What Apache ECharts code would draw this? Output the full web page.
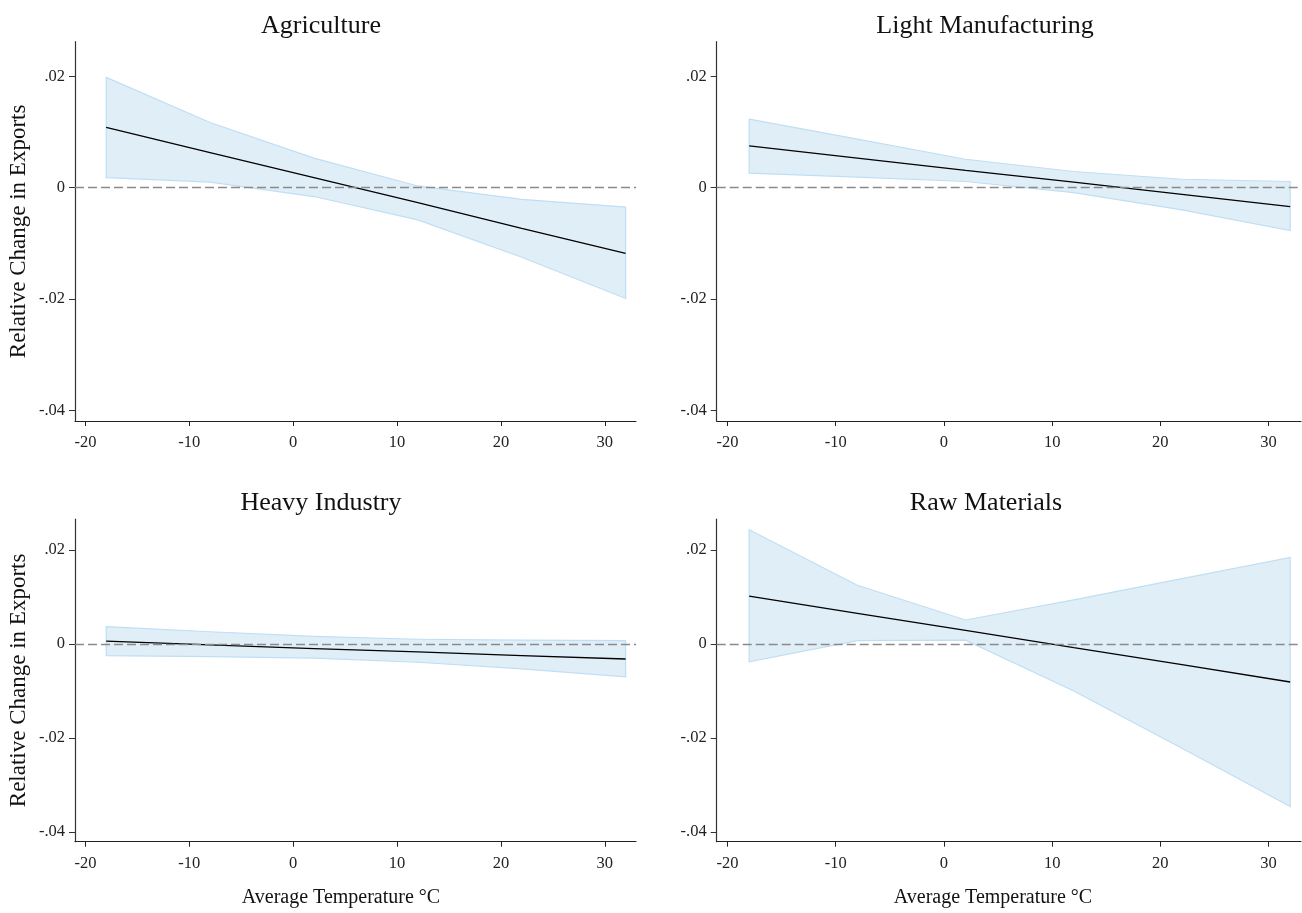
<!DOCTYPE html>
<html>
<head>
<meta charset="utf-8">
<script src="https://cdn.jsdelivr.net/npm/echarts@6/dist/echarts.min.js"></script>
<style>
html,body{margin:0;padding:0;background:#fff;}
#chart{width:1302px;height:913px;}
</style>
</head>
<body>
<div id="chart"></div>
<script>
// ---- data ----
const temps = [-18, -8, 2, 12, 22, 32];
const xTicks = [-20, -10, 0, 10, 20, 30];
const yTicks = [-0.04, -0.02, 0, 0.02];
const yTickLabels = ['-.04', '-.02', '0', '.02'];
const panelTitles = ['Agriculture', 'Light Manufacturing', 'Heavy Industry', 'Raw Materials'];
const yAxisTitle = 'Relative Change in Exports';
const xAxisTitle = 'Average Temperature °C';

const agriEst = [0.0108, 0.0063, 0.0018, -0.0027, -0.0073, -0.0118];
const agriHi  = [0.0198, 0.0117, 0.0053, 0.0003, -0.0021, -0.0035];
const agriLo  = [0.0018, 0.0010, -0.0016, -0.0058, -0.0125, -0.0199];

const lightEst = [0.0075, 0.0053, 0.0031, 0.0010, -0.0012, -0.0034];
const lightHi  = [0.0123, 0.0087, 0.0051, 0.0029, 0.0015, 0.0011];
const lightLo  = [0.0026, 0.0019, 0.0011, -0.0009, -0.0040, -0.0077];

const heavyEst = [0.0006, -0.0002, -0.0010, -0.0017, -0.0025, -0.0032];
const heavyHi  = [0.0037, 0.0026, 0.0016, 0.0010, 0.0008, 0.0007];
const heavyLo  = [-0.0025, -0.0027, -0.0030, -0.0039, -0.0053, -0.0070];

const rawEst = [0.0102, 0.0065, 0.0029, -0.0008, -0.0044, -0.0081];
const rawHi  = [0.0243, 0.0125, 0.0051, 0.0094, 0.0139, 0.0184];
const rawLo  = [-0.0038, 0.0007, 0.0008, -0.0100, -0.0222, -0.0346];

// ---- layout / style ----
const panels = [
  {est: agriEst, hi: agriHi, lo: agriLo},
  {est: lightEst, hi: lightHi, lo: lightLo},
  {est: heavyEst, hi: heavyHi, lo: heavyLo},
  {est: rawEst, hi: rawHi, lo: rawLo}
];
const grids = [
  {left: 75, top: 41.7, width: 561, height: 379.3},
  {left: 716.7, top: 41.7, width: 584.3, height: 379.3},
  {left: 75, top: 519, width: 561, height: 322.7},
  {left: 716.7, top: 519, width: 584.3, height: 322.7}
];
const yRanges = [[-0.0419, 0.0262], [-0.0419, 0.0262], [-0.0421, 0.0266], [-0.0421, 0.0266]];
const FONT = '"Liberation Serif", "Times New Roman", serif';
const bandFill = '#e0eef8';
const bandEdge = '#c0def3';

const chart = echarts.init(document.getElementById('chart'), null, {renderer: 'canvas'});

const grid = grids.map(g => Object.assign({outerBoundsMode: 'none', containLabel: false}, g));
const xAxis = [], yAxis = [], series = [];
panels.forEach((p, i) => {
  xAxis.push({
    type: 'value', gridIndex: i, min: -21, max: 33,
    axisLine: {show: true, onZero: false, lineStyle: {color: '#222', width: 1.2}},
    axisTick: {show: true, length: 5, customValues: xTicks, lineStyle: {color: '#222'}},
    axisLabel: {customValues: xTicks, margin: 13, color: '#222', fontFamily: FONT, fontSize: 16.5},
    splitLine: {show: false}
  });
  yAxis.push({
    type: 'value', gridIndex: i, min: yRanges[i][0], max: yRanges[i][1],
    axisLine: {show: true, onZero: false, lineStyle: {color: '#333', width: 1.2}},
    axisTick: {show: true, length: 6, customValues: yTicks, lineStyle: {color: '#333'}},
    axisLabel: {
      customValues: yTicks, margin: 10, color: '#222', fontFamily: FONT, fontSize: 16.5,
      formatter: v => {
        const k = yTicks.findIndex(t => Math.abs(t - v) < 1e-9);
        return k >= 0 ? yTickLabels[k] : '';
      }
    },
    splitLine: {show: false}
  });
  series.push({
    type: 'custom', xAxisIndex: i, yAxisIndex: i, silent: true, z: 1,
    data: [[temps[0], p.est[0]]],
    renderItem: (params, api) => {
      const pts = [];
      temps.forEach((t, k) => pts.push(api.coord([t, p.hi[k]])));
      for (let k = temps.length - 1; k >= 0; k--) pts.push(api.coord([temps[k], p.lo[k]]));
      return {type: 'polygon', shape: {points: pts}, style: {fill: bandFill, stroke: bandEdge, lineWidth: 1.2}};
    }
  });
  series.push({
    type: 'line', xAxisIndex: i, yAxisIndex: i, z: 3, silent: true,
    data: temps.map((t, k) => [t, p.est[k]]),
    symbol: 'none',
    lineStyle: {color: '#000', width: 1.3},
    markLine: {
      silent: true, symbol: ['none', 'none'], label: {show: false},
      lineStyle: {color: '#8a8a8a', type: [9, 4], width: 1.3},
      data: [{yAxis: 0}]
    }
  });
});

const titleCenters = [[321, 26], [985, 26], [321, 503], [986, 503]];
const graphic = [];
panelTitles.forEach((t, i) => {
  graphic.push({type: 'text', x: titleCenters[i][0], y: titleCenters[i][1], silent: true,
    style: {text: t, font: '26px ' + FONT, fill: '#111', align: 'center', verticalAlign: 'middle',
      textAlign: 'center', textVerticalAlign: 'middle'}});
});
[[19, 231.4], [19, 680.4]].forEach(c => {
  graphic.push({type: 'text', x: c[0], y: c[1], rotation: Math.PI / 2, silent: true,
    style: {text: yAxisTitle, font: '23px ' + FONT, fill: '#111', align: 'center', verticalAlign: 'middle',
      textAlign: 'center', textVerticalAlign: 'middle'}});
});
[[341, 898], [993, 898]].forEach(c => {
  graphic.push({type: 'text', x: c[0], y: c[1], silent: true,
    style: {text: xAxisTitle, font: '20px ' + FONT, fill: '#111', align: 'center', verticalAlign: 'middle',
      textAlign: 'center', textVerticalAlign: 'middle'}});
});

chart.setOption({
  animation: false,
  backgroundColor: '#fff',
  grid, xAxis, yAxis, series, graphic
});
</script>
</body>
</html>
